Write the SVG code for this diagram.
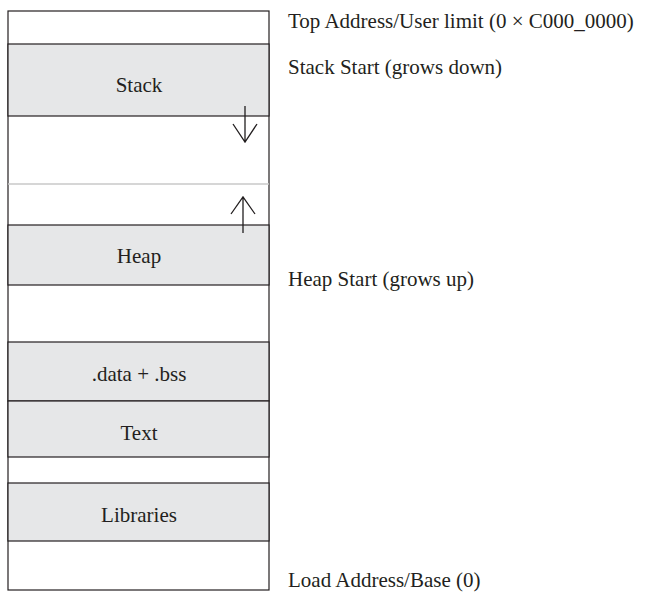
<svg xmlns="http://www.w3.org/2000/svg" width="647" height="593" viewBox="0 0 647 593">
<style>
.band{fill:#e6e7e8;stroke:#231f20;stroke-width:1.2}
.frame{fill:#ffffff;stroke:#231f20;stroke-width:1.2}
.lbl{font-family:"Liberation Serif",serif;font-size:21px;fill:#231f20}
.c{text-anchor:middle}
.arr{fill:none;stroke:#231f20;stroke-width:1.3}
</style>
<g id="memory">
<rect class="frame" x="8" y="11" width="261" height="579"/>
</g>
<g id="stack"><rect class="band" x="8" y="44" width="261" height="72"/><text class="lbl c" x="139" y="92">Stack</text></g>
<g id="divider"><line x1="8" y1="184" x2="269" y2="184" stroke="#c8c8c8" stroke-width="1.5"/></g>
<g id="heap"><rect class="band" x="8" y="225" width="261" height="60"/><text class="lbl c" x="139" y="263">Heap</text></g>
<g id="data"><rect class="band" x="8" y="342" width="261" height="59"/><text class="lbl c" x="139" y="381">.data + .bss</text></g>
<g id="text"><rect class="band" x="8" y="401" width="261" height="56"/><text class="lbl c" x="139" y="440">Text</text></g>
<g id="libraries"><rect class="band" x="8" y="483" width="261" height="58"/><text class="lbl c" x="139" y="522">Libraries</text></g>
<g id="connectors">
<path class="arr" d="M245 106 V142 M233 124 L245 142 L257 124"/>
<path class="arr" d="M243 233 V197 M231 214 L243 197 L255 214"/>
</g>
<g id="annotations">
<text class="lbl" x="288" y="28">Top Address/User limit (0 × C000_0000)</text>
<text class="lbl" x="288" y="74">Stack Start (grows down)</text>
<text class="lbl" x="288" y="286">Heap Start (grows up)</text>
<text class="lbl" x="288" y="587">Load Address/Base (0)</text>
</g>
</svg>
